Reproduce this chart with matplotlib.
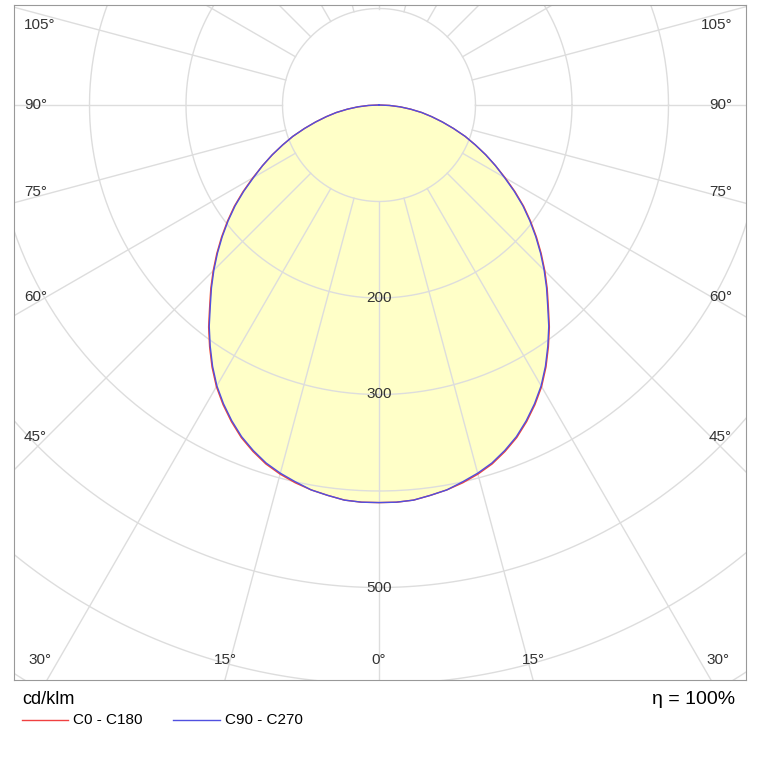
import numpy as np
import matplotlib.pyplot as plt

plt.rcParams["font.family"] = "Liberation Sans"

# gamma angles (deg from nadir) and intensity in cd/klm
gamma = [0, 2.5, 5, 7.5, 10, 12.5, 15, 17.5, 20, 22.5, 25, 27.5, 30, 32.5, 35, 37.5, 40, 42.5, 45,
         47.5, 50, 52.5, 55, 57.5, 60, 62.5, 65, 67.5, 70, 72.5, 75, 77.5, 80, 82.5, 85, 87.5, 90]
c0_c180 = [412, 412, 411, 408, 405, 401, 396, 390, 382, 373, 362, 350, 337, 322, 306, 290, 273, 258, 243,
           228, 213, 198, 183, 167, 151, 136, 122, 108, 95, 81, 68, 56, 45, 33, 22, 11, 0]
c90_c270 = [412, 412, 411, 408, 405, 400, 395, 389, 381, 372, 361, 349, 336, 321, 305, 289, 272, 257, 242,
            227, 212, 197, 182, 166, 150, 136, 122, 108, 95, 81, 68, 56, 45, 33, 22, 11, 0]
ring_values = [100, 200, 300, 400, 500, 600, 700]
ring_labels = {200: "200", 300: "300", 500: "500"}
spoke_angles = list(range(0, 360, 15))

W, H = 767, 767
fig = plt.figure(figsize=(W / 100, H / 100), dpi=100)
ax = fig.add_axes([14 / W, 1 - 680 / H, 732 / W, 675 / H])
s = 0.965  # px per cd
ax.set_xlim(-365 / s, 367 / s)
ax.set_ylim(-575 / s, 100 / s)
ax.set_aspect("equal")
ax.set_xticks([]); ax.set_yticks([])
for sp in ax.spines.values():
    sp.set_color("#999999")


def curve(vals):
    g = np.radians(gamma)
    v = np.array(vals)
    x = np.concatenate([-(v * np.sin(g))[::-1], v * np.sin(g)])
    y = np.concatenate([-(v * np.cos(g))[::-1], -v * np.cos(g)])
    return x, y

x1, y1 = curve(c0_c180)
x2, y2 = curve(c90_c270)
ax.fill(x1, y1, color="#ffffc8", zorder=1)

gc = "#dddddd"
t = np.linspace(0, 2 * np.pi, 400)
for r in ring_values:
    ax.plot(r * np.cos(t), r * np.sin(t), color=gc, lw=1, zorder=2)
for a in spoke_angles:
    g = np.radians(a)
    ax.plot([100 * np.sin(g), 1000 * np.sin(g)], [-100 * np.cos(g), -1000 * np.cos(g)],
            color=gc, lw=1, zorder=2)

ax.plot(x1, y1, color="#f04040", lw=1, zorder=3)
ax.plot(x2, y2, color="#5050e0", lw=1, zorder=4)

for r, lab in ring_labels.items():
    ax.text(0, -r, lab, ha="center", va="center", fontsize=11, color="#333333", zorder=5)

# angle labels at frame edges
fs = 11
side_labels = {105: 25, 90: 105, 75: 192, 60: 297, 45: 437}
for a, py in side_labels.items():
    yd = (105 - py) / s
    ax.text(-355 / s, yd, f"{a}°", ha="left", va="center", fontsize=fs, color="#333333")
    ax.text(353 / s, yd, f"{a}°", ha="right", va="center", fontsize=fs, color="#333333")
for a in (0, 15, 30):
    px = 575 * np.tan(np.radians(a)) if a < 30 else 339
    for sgn in ((1, -1) if a else (1,)):
        ax.text(sgn * px / s, -555 / s, f"{a}°", ha="center", va="center", fontsize=fs, color="#333333")

fig.text(22 / W, 1 - 700 / H, "cd/klm", fontsize=13, va="center", ha="left")
fig.text(735 / W, 1 - 700 / H, "η = 100%", fontsize=14, va="center", ha="right")
fig.add_artist(plt.Line2D([22 / W, 68 / W], [1 - 720 / H] * 2, color="#f04040", lw=1))
fig.text(73 / W, 1 - 720 / H, "C0 - C180", fontsize=11, va="center")
fig.add_artist(plt.Line2D([173 / W, 220 / W], [1 - 720 / H] * 2, color="#5050e0", lw=1))
fig.text(225 / W, 1 - 720 / H, "C90 - C270", fontsize=11, va="center")

fig.savefig("out.png", dpi=100, facecolor="white")
